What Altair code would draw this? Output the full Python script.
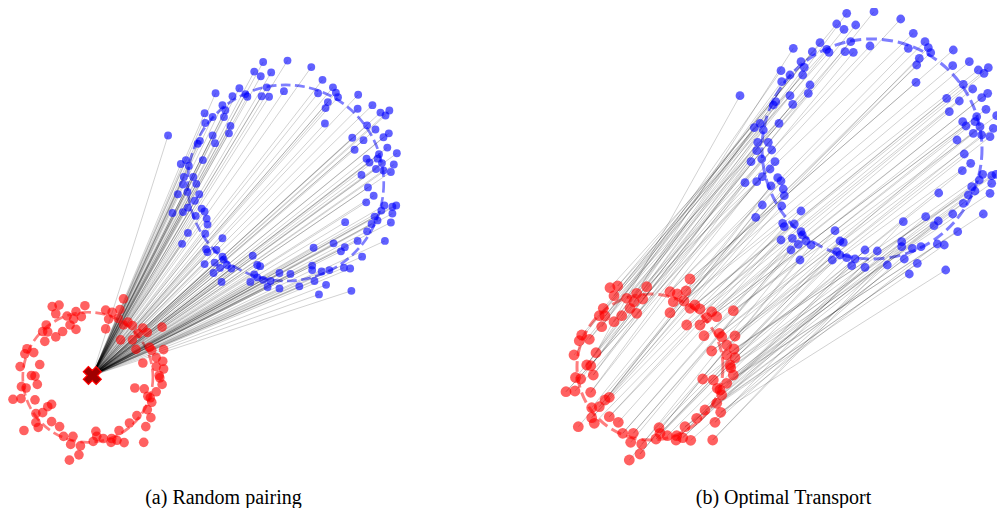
import altair as alt
import numpy as np
import pandas as pd

# ---- data (coordinates in panel-(b) image units) ----
red_x = [610, 617.7, 614, 646.7, 690, 670, 677.3, 686, 626.7, 636.7, 642.7, 634, 630, 603.3, 599.3, 605,
         621.7, 614, 636.7, 601.7, 673.3, 670, 684, 690, 695, 700, 706.7, 711.7, 716.7, 733.3, 686.7, 700,
         704, 719.3, 721.7, 726.7, 735, 734, 711.7, 726.7, 735, 730, 581.7, 589.3, 579.3, 574, 596, 586.7,
         590.7, 593.3, 580.7, 575.5, 566, 575, 590.7, 609.3, 605, 599.3, 591.7, 591.7, 594.3, 609.3, 618.3,
         578.3, 622.7, 633.3, 630.7, 641.7, 640, 629.3, 659, 660, 656, 667.3, 676.7, 676, 682.7, 690.7, 685,
         696.7, 705, 715, 720.7, 716.7, 721.7, 720, 717.3, 726.7, 702.7, 713.3, 733.3, 730.7, 712.7]
red_y = [287.7, 286, 295.7, 286.7, 279, 291.7, 294, 291, 298.3, 293.3, 299, 301.7, 308.3, 308.3, 315.7, 316,
         315.7, 321.7, 313.3, 326.7, 301.7, 312.7, 301, 308.3, 305, 309, 317.7, 311.7, 316.7, 310.7, 325, 325,
         335.7, 333.3, 336.7, 345, 336, 349, 351, 355, 357.7, 365, 335, 339.3, 340.7, 355, 352.7, 365,
         365.7, 375, 379, 377.5, 391.7, 391, 392.3, 397.3, 400, 406.7, 407.7, 417.7, 423.3, 416.7, 422.3,
         426.7, 433.3, 433.3, 442.3, 444, 454, 460, 427.7, 433.3, 439, 435.7, 435.7, 440, 437.7, 440.3, 426.7,
         418.3, 410, 422.3, 412.3, 403.3, 395, 390, 388.3, 383.3, 379, 380, 375, 367.7, 440]

blue_x = [846.7, 836.7, 844, 855.7, 850.7, 845, 853.3, 870, 820, 826.7, 829, 812.3, 793.3, 801, 804.3, 802.7,
          781, 790, 781.7, 810, 808.3, 790, 792.7, 775.7, 773.3, 740, 779, 760, 754.3, 763.3,
          874, 900.7, 913.3, 925, 928.3, 930.7, 908.3, 919.3, 916.7, 916, 953.3, 952.7, 969.3, 978.3, 984,
          988.3, 963.3, 972.7, 987.7, 981.7, 946.7, 959.3, 949.3, 986, 996.7, 976.7, 975, 962.7, 966, 980,
          993.3, 973.3, 981.7, 990, 957,
          964.3, 970.7, 962.3, 982.7, 991.7, 996, 979.3, 991.7, 971.7, 975, 990, 968.3, 963.3, 938.7, 983.3,
          952.7, 925.7, 938.3, 934, 903.3, 957.7, 901.7, 901.7, 912.3, 921, 937.3, 944.3, 865, 877.3, 904.3,
          917.3, 887.3, 865, 909.3, 945.7,
          757.7, 768.3, 771.7, 756.7, 751, 761.7, 775, 770, 762.3, 745, 756.7, 777.7, 781, 771, 783.3, 784.3,
          762.3, 781.7, 801, 755.7, 782.7, 784.3, 794.3, 801, 802.3, 792.3, 781, 798.3, 806, 811, 791, 800,
          835, 840, 843.3, 836.7, 840, 832.3, 846.7, 855, 851.7]
blue_y = [13.3, 24, 29.3, 25, 41.7, 51.7, 52.3, 46, 42.7, 49.3, 52.3, 51.7, 48.3, 61.7, 67.3, 75,
          70.7, 75, 81.7, 85, 93.3, 95.7, 104.3, 101.7, 105, 95.7, 123.3, 123.3, 127.7, 130,
          11.7, 19, 33.3, 41.7, 47.7, 52.7, 48.3, 58.3, 65, 82.3, 50, 65.7, 61.7, 70, 73.3,
          67.7, 84.3, 89, 93.3, 97.7, 98.3, 101, 111.7, 109.3, 115.7, 116.7, 121.7, 121.7, 126, 126.7,
          128.3, 133.3, 135, 136.7, 140,
          154, 163.3, 170.7, 174.3, 175.7, 174.3, 180, 183.3, 186.7, 191, 193.3, 195, 203.3, 193, 214,
          214, 216.7, 221, 225.7, 221.7, 231.7, 241.7, 246.7, 248.3, 246.7, 244, 245, 250, 251, 259,
          263.3, 265, 267.3, 274, 270,
          142.3, 142.3, 150, 150.7, 161.7, 159, 161.7, 169, 176.7, 182.7, 181.7, 177.7, 181, 186, 189, 195.7,
          205, 206, 211, 217.3, 223.3, 226.7, 224, 231.7, 235, 238.3, 240, 244.3, 241, 245, 250, 260,
          230.7, 241, 242.3, 251.7, 255, 260, 257.7, 259, 265.7]

ring_set = ["source", "target"]
ring_cx = [650, 872]
ring_cy = [367, 149]
ring_r = [73, 110]

mean_x = [655]
mean_y = [365]

captions = ["(a) Random pairing", "(b) Optimal Transport"]

# ---- derived tables ----
red = pd.DataFrame({"x": red_x, "y": red_y})
blue = pd.DataFrame({"x": blue_x, "y": blue_y})
mean = pd.DataFrame({"x": mean_x, "y": mean_y})

# random pairing: every target point joined to the source mean
lines_a = pd.DataFrame({"x": mean_x * len(blue_x), "y": mean_y * len(blue_x),
                        "x2": blue_x, "y2": blue_y})

# optimal transport: match points by their angular order around each ring
rx, ry = np.array(red_x), np.array(red_y)
bx, by = np.array(blue_x), np.array(blue_y)
ord_r = np.argsort(np.arctan2(ry - ring_cy[0], rx - ring_cx[0]))
ord_b = np.argsort(np.arctan2(by - ring_cy[1], bx - ring_cx[1]))
nR, nB = len(rx), len(bx)
src = [ord_r[int(j * nR / nB)] for j in range(nB)]
lines_b = pd.DataFrame({"x": rx[src], "y": ry[src], "x2": bx[ord_b], "y2": by[ord_b]})


def panel(xdom, ydom, w, h, k, lines, caption, show_mean, clip, dx):
    xs = alt.Scale(domain=xdom, nice=False, zero=False)
    ys = alt.Scale(domain=ydom, nice=False, zero=False, reverse=True)
    X = lambda f: alt.X(f, type="quantitative", scale=xs, axis=None)
    Y = lambda f: alt.Y(f, type="quantitative", scale=ys, axis=None)

    rings = pd.DataFrame({"cx": ring_cx, "cy": ring_cy, "set": ring_set,
                          "px": [(2 * r * k) ** 2 for r in ring_r]})
    ring_layer = alt.Chart(rings).mark_point(
        shape="circle", filled=False, strokeWidth=3 * k, opacity=0.5,
        strokeDash=[11 * k, 5 * k], clip=clip
    ).encode(
        x=X("cx"), y=Y("cy"),
        size=alt.Size("px:Q", scale=None),
        color=alt.Color("set:N", scale=alt.Scale(domain=ring_set, range=["#ff0000", "#0000ff"]), legend=None),
    )
    line_layer = alt.Chart(lines).mark_rule(color="black", opacity=0.3, strokeWidth=0.6, clip=clip).encode(
        x=X("x"), y=Y("y"), x2="x2", y2="y2"
    )
    red_layer = alt.Chart(red).mark_circle(color="#ff0000", opacity=0.62, size=(10.8 * k) ** 2,
                                           clip=clip).encode(
        x=X("x"), y=Y("y")
    )
    blue_layer = alt.Chart(blue).mark_circle(color="#0000ff", opacity=0.62, size=(8.8 * k) ** 2,
                                             clip=clip).encode(
        x=X("x"), y=Y("y")
    )
    layers = [ring_layer, line_layer, red_layer, blue_layer]
    if show_mean:
        layers.append(
            alt.Chart(mean).mark_point(shape="cross", angle=45, filled=True, size=330,
                                       fill="#a00000", stroke="#ff0000", strokeWidth=1.2, opacity=1).encode(
                x=X("x"), y=Y("y")
            )
        )
    return alt.layer(*layers).properties(
        width=w, height=h,
        title=alt.TitleParams(caption, orient="bottom", anchor="middle", font="Liberation Serif",
                              fontSize=20, fontWeight="normal", color="black", offset=10, dx=dx),
    )


H = 470
ka = 1 / 1.122
pa = panel([560.4, 1044.0], [-47.3, 480.0], 431, H, ka, lines_a, captions[0], True, False, 0)
pb = panel([556, 997], [8, 478], 441, H, 1.0, lines_b, captions[1], False, True, 7)

chart = alt.hconcat(pa, pb, spacing=117, bounds="flush").properties(padding=0).configure_view(stroke=None)

chart.save("out.html", embed_options={"renderer": "svg", "actions": False})
